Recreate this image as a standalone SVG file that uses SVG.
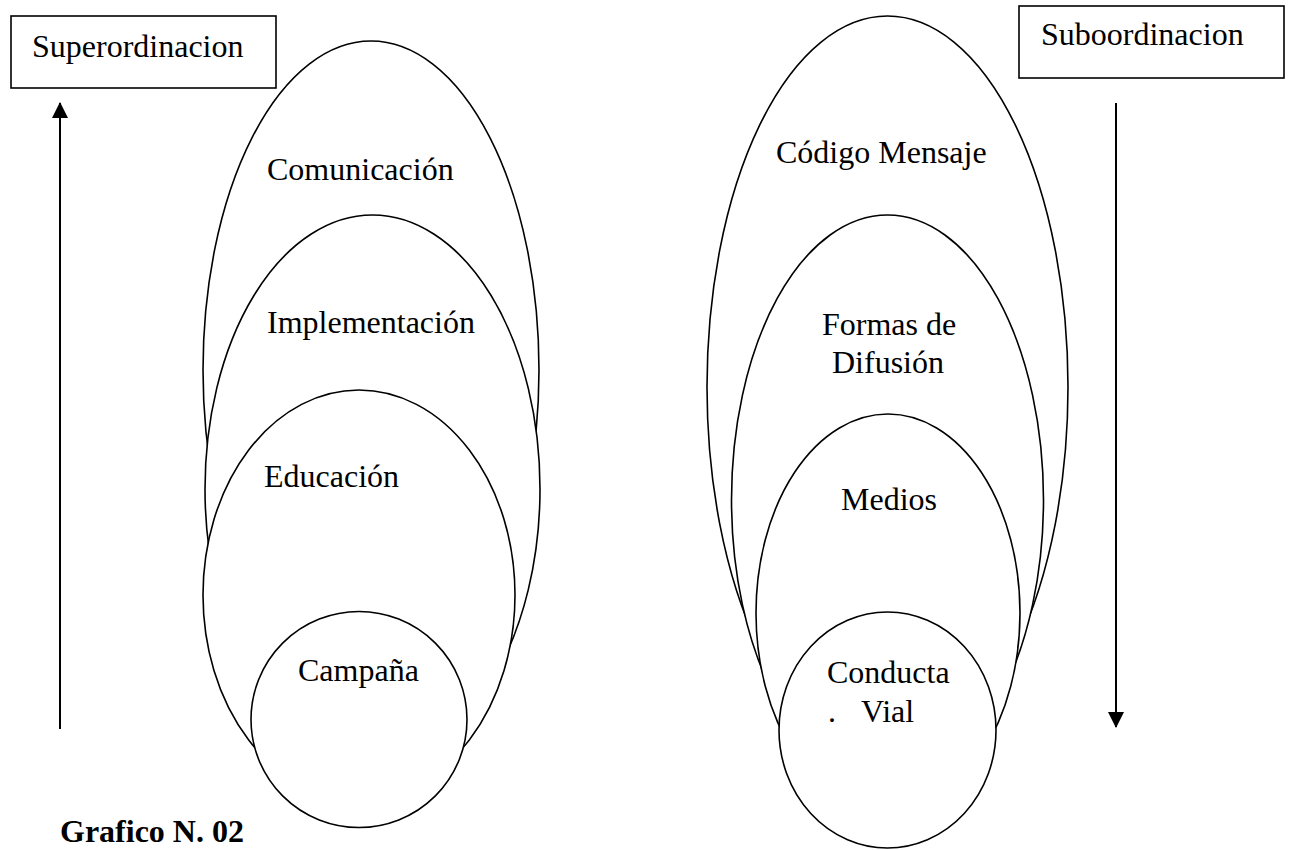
<svg xmlns="http://www.w3.org/2000/svg" width="1291" height="850" viewBox="0 0 1291 850">
<style>
.shape{fill:#fff;stroke:#000;stroke-width:1.6}
.lbl{font-family:"Liberation Serif","Times New Roman",serif;font-size:32px;fill:#000}
.title{font-family:"Liberation Serif","Times New Roman",serif;font-size:32px;font-weight:bold;fill:#000}
.arrow{stroke:#000;stroke-width:2;fill:none}
</style>
<defs>
<marker id="ah" markerWidth="16" markerHeight="16" refX="15" refY="8" orient="auto" markerUnits="userSpaceOnUse" viewBox="0 0 16 16">
<path d="M0,0 L16,8 L0,16 Z" fill="#000"/>
</marker>
</defs>
<rect width="1291" height="850" fill="#fff"/>
<g id="superordinacion">
<rect class="shape" x="11" y="16" width="265" height="72"/>
<text class="lbl" x="32" y="57">Superordinacion</text>
</g>
<g id="suboordinacion">
<rect class="shape" x="1019" y="6" width="265" height="72"/>
<text class="lbl" x="1041" y="45">Suboordinacion</text>
</g>
<g id="comunicacion">
<ellipse class="shape" cx="371" cy="370" rx="168" ry="329"/>
<text class="lbl" x="267" y="180">Comunicación</text>
</g>
<g id="implementacion">
<ellipse class="shape" cx="372.5" cy="489" rx="167.5" ry="274"/>
<text class="lbl" x="267" y="333">Implementación</text>
</g>
<g id="educacion">
<ellipse class="shape" cx="359" cy="595" rx="156" ry="205"/>
<text class="lbl" x="264" y="487">Educación</text>
</g>
<g id="campana">
<circle class="shape" cx="359" cy="719.5" r="108"/>
<text class="lbl" x="298" y="681">Campaña</text>
</g>
<g id="codigo-mensaje">
<ellipse class="shape" cx="887.5" cy="387" rx="180.5" ry="371"/>
<text class="lbl" x="776" y="163">Código Mensaje</text>
</g>
<g id="formas-difusion">
<ellipse class="shape" cx="887.5" cy="500" rx="156" ry="285"/>
<text class="lbl" x="822" y="335">Formas de</text>
<text class="lbl" x="832" y="373">Difusión</text>
</g>
<g id="medios">
<ellipse class="shape" cx="888" cy="613" rx="132" ry="199"/>
<text class="lbl" x="841" y="510">Medios</text>
</g>
<g id="conducta-vial">
<ellipse class="shape" cx="887.5" cy="730" rx="108.5" ry="118"/>
<text class="lbl" x="827" y="683">Conducta</text>
<text class="lbl" x="828" y="722">.<tspan x="861">Vial</tspan></text>
</g>
<g id="connectors">
<line class="arrow" x1="60" y1="729" x2="60" y2="103" marker-end="url(#ah)"/>
<line class="arrow" x1="1116" y1="103" x2="1116" y2="727" marker-end="url(#ah)"/>
</g>
<g id="caption">
<text class="title" x="60" y="842">Grafico N. 02</text>
</g>
</svg>
